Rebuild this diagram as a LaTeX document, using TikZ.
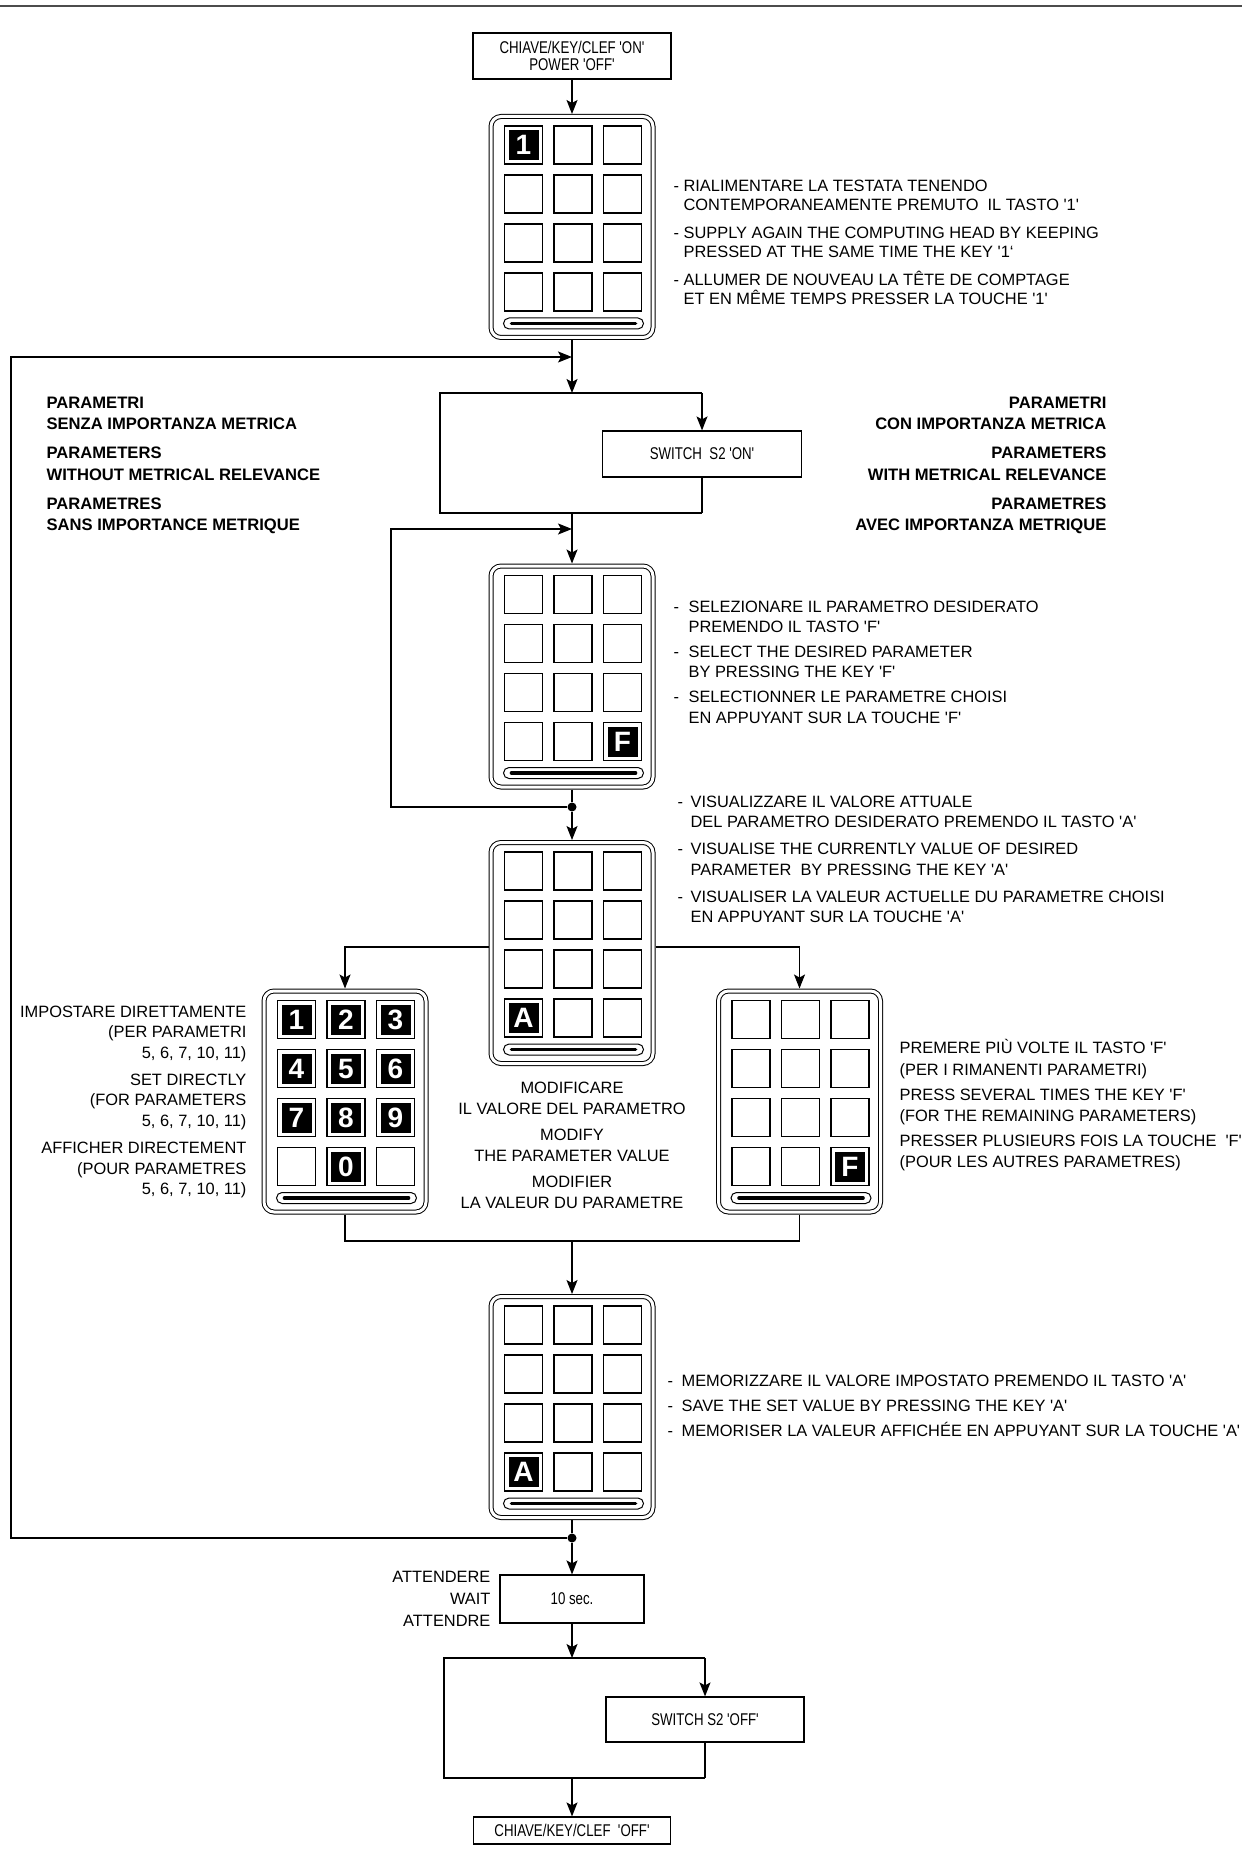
\documentclass[tikz,border=0pt]{standalone}
\usepackage{fontspec}
\setmainfont{Liberation Sans}
\newfontfamily\mytxt{Liberation Sans}
\newfontfamily\mycond[FakeStretch=0.78]{Liberation Sans}
\usepackage{tikz}
\usetikzlibrary{arrows.meta,calc,positioning}

\tikzset{
  arr/.style={-{Stealth[length=7pt,width=5.5pt,inset=1.5pt]}},
  box/.style={draw, inner sep=0pt, align=center,
    font=\mycond\fontsize{8.5}{8.5}\selectfont},
  keypad/.style={draw, double, double distance=1.5pt, line width=0.5pt,
    rounded corners=5pt, minimum width=81pt, minimum height=110.5pt,
    inner sep=0pt, outer sep=1.25pt},
  key/.style={line width=0.7pt},
  hkey/.style={fill=black, text=white, minimum size=15pt, inner sep=0pt,
    font=\mytxt\fontsize{14}{14}\selectfont\bfseries},
  dot/.style={circle, fill=black, inner sep=0pt, minimum size=4.5pt},
  txt/.style={inner sep=0pt, font=\mytxt\fontsize{8.2}{#1}\selectfont},
  txt/.default=10.2pt,
  boldtxt/.style={inner sep=0pt, font=\mytxt\fontsize{8.3}{10.75}\selectfont\bfseries},
}

% dash in front of a text line, and the indent of its second line
\newcommand{\itemdash}[1][7pt]{\makebox[#1][l]{-}}
\newcommand{\itemind}[1][7pt]{\hspace*{#1}}

% keypad: 3x4 keys and the slot at the bottom
\newcommand{\drawkeypad}[2]{%
  \node[keypad] (#1) at (#2) {};
  \foreach \kx in {0,1,2}
    \foreach \ky in {0,1,2,3}
      \draw[key] ($(#1.north west)+(16+49.5*\kx,12+49*\ky)$) rectangle ++(38,38);
  \draw[line width=0.5pt, rounded corners=2.75pt]
    ($(#1.north west)+(15,204)$) rectangle ++(140,11);
  \draw[line width=1.8pt, line cap=round]
    ($(#1.north west)+(23,209.5)$) -- ++(124,0);
}
% pressed key: column, row, label
\newcommand{\hotkey}[4]{%
  \node[hkey] (#1-#4) at ($(#1.north west)+(35+49.5*#2,31+49*#3)$) {#4};
}

\begin{document}
\begin{tikzpicture}[x=0.5pt, y=-0.5pt, line width=0.6pt]
\useasboundingbox (0,0) rectangle (1242,1850);
\draw[line width=0.8pt, black!70] (0,6) -- (1242,6);

% boxes
\node[box, minimum width=99pt, minimum height=23pt] (on) at (572,56)
  {CHIAVE/KEY/CLEF 'ON'\\POWER 'OFF'};
\node[box, minimum width=99.5pt, minimum height=23pt] (sw1) at (702,454)
  {SWITCH\ \ S2 'ON'};
\node[box, minimum width=72pt, minimum height=24pt] (wt) at (572,1599) {10 sec.};
\node[box, minimum width=99pt, minimum height=22.5pt] (sw2) at (705,1719.5)
  {SWITCH S2 'OFF'};
\node[box, minimum width=98.5pt, minimum height=13.5pt] (off) at (572,1830.5)
  {CHIAVE/KEY/CLEF\ \ 'OFF'};

% keypads
\drawkeypad{kp1}{572,227}
\hotkey{kp1}{0}{0}{1}
\drawkeypad{kp2}{572,676.5}
\hotkey{kp2}{2}{3}{F}
\drawkeypad{kp3}{572,953}
\hotkey{kp3}{0}{3}{A}
\drawkeypad{kpL}{345,1101.5}
\foreach \n/\cx/\cy in {1/0/0,2/1/0,3/2/0,4/0/1,5/1/1,6/2/1,7/0/2,8/1/2,9/2/2,0/1/3}
  {\hotkey{kpL}{\cx}{\cy}{\n}}
\drawkeypad{kpR}{799.5,1101.5}
\hotkey{kpR}{2}{3}{F}
\drawkeypad{kp4}{572,1407}
\hotkey{kp4}{0}{3}{A}

\node[dot] (d1) at (572,807) {};
\node[dot] (d2) at (572,1538) {};

% corner points of the lines
\coordinate (j1) at (572,357);
\coordinate (lp1a) at (11,1538);
\coordinate (lp1b) at (11,357);
\coordinate (f1n) at (572,393);
\coordinate (f1nw) at (440,393);
\coordinate (f1ne) at (702,393);
\coordinate (f1sw) at (440,513);
\coordinate (f1se) at (702,513);
\coordinate (f1s) at (572,513);
\coordinate (j2) at (572,529);
\coordinate (lp2a) at (391,807);
\coordinate (lp2b) at (391,529);
\coordinate (bl) at (345,947);
\coordinate (br) at (799.5,947);
\coordinate (jl) at (345,1241);
\coordinate (jr) at (799.5,1241);
\coordinate (jm) at (572,1241);
\coordinate (f2n) at (572,1658);
\coordinate (f2nw) at (444,1658);
\coordinate (f2ne) at (705,1658);
\coordinate (f2sw) at (444,1778);
\coordinate (f2se) at (705,1778);
\coordinate (f2s) at (572,1778);

% connectors
\draw[arr] (on) -- (kp1);
\draw[arr] (kp1) -- (f1n);
\draw[arr] (d2) -- (lp1a) -- (lp1b) -- (j1);
\draw (f1ne) -- (f1nw) -- (f1sw) -- (f1se);
\draw[arr] (f1ne) -- (sw1);
\draw (sw1) -- (f1se);
\draw[arr] (f1s) -- (kp2);
\draw[arr] (d1) -- (lp2a) -- (lp2b) -- (j2);
\draw (kp2) -- (d1);
\draw[arr] (d1) -- (kp3);
\draw[arr] (kp3.west |- bl) -- (bl) -- (kpL);
\draw[arr] (kp3.east |- br) -- (br) -- (kpR);
\draw (kpL) -- (jl) -- (jr) -- (kpR);
\draw[arr] (jm) -- (kp4);
\draw (kp4) -- (d2);
\draw[arr] (d2) -- (wt);
\draw[arr] (wt) -- (f2n);
\draw (f2ne) -- (f2nw) -- (f2sw) -- (f2se);
\draw[arr] (f2ne) -- (sw2);
\draw (sw2) -- (f2se);
\draw[arr] (f2s) -- (off);

% texts
\node[txt=9.5pt, anchor=north west, align=left] (t1) at (673,179)
  {\itemdash[5pt]RIALIMENTARE LA TESTATA TENENDO\\
   \itemind[5pt]CONTEMPORANEAMENTE PREMUTO\ \ IL TASTO '1'\\[4.5pt]
   \itemdash[5pt]SUPPLY AGAIN THE COMPUTING HEAD BY KEEPING\\
   \itemind[5pt]PRESSED AT THE SAME TIME THE KEY '1‘\\[4.5pt]
   \itemdash[5pt]ALLUMER DE NOUVEAU LA TÊTE DE COMPTAGE\\
   \itemind[5pt]ET EN MÊME TEMPS PRESSER LA TOUCHE '1'};
\node[boldtxt, anchor=north west, align=left] (t2) at (46,396)
  {PARAMETRI\\SENZA IMPORTANZA METRICA\\[3.75pt]
   PARAMETERS\\WITHOUT METRICAL RELEVANCE\\[3.75pt]
   PARAMETRES\\SANS IMPORTANCE METRIQUE};
\node[boldtxt, anchor=north east, align=right] (t3) at (1107,396)
  {PARAMETRI\\CON IMPORTANZA METRICA\\[3.75pt]
   PARAMETERS\\WITH METRICAL RELEVANCE\\[3.75pt]
   PARAMETRES\\AVEC IMPORTANZA METRIQUE};
\node[txt=10.2pt, anchor=north west, align=left] (t4) at (673,600)
  {\itemdash[7.5pt]SELEZIONARE IL PARAMETRO DESIDERATO\\
   \itemind[7.5pt]PREMENDO IL TASTO 'F'\\[2.3pt]
   \itemdash[7.5pt]SELECT THE DESIRED PARAMETER\\
   \itemind[7.5pt]BY PRESSING THE KEY 'F'\\[2.3pt]
   \itemdash[7.5pt]SELECTIONNER LE PARAMETRE CHOISI\\
   \itemind[7.5pt]EN APPUYANT SUR LA TOUCHE 'F'};
\node[txt=10.3pt, anchor=north west, align=left] (t5) at (677,795)
  {\itemdash[6.5pt]VISUALIZZARE IL VALORE ATTUALE\\
   \itemind[6.5pt]DEL PARAMETRO DESIDERATO PREMENDO IL TASTO 'A'\\[3.2pt]
   \itemdash[6.5pt]VISUALISE THE CURRENTLY VALUE OF DESIRED\\
   \itemind[6.5pt]PARAMETER\ \ BY PRESSING THE KEY 'A'\\[3.2pt]
   \itemdash[6.5pt]VISUALISER LA VALEUR ACTUELLE DU PARAMETRE CHOISI\\
   \itemind[6.5pt]EN APPUYANT SUR LA TOUCHE 'A'};
\node[txt=10.3pt, anchor=north east, align=right] (t6) at (247,1005)
  {IMPOSTARE DIRETTAMENTE\\(PER PARAMETRI\\5, 6, 7, 10, 11)\\[3.2pt]
   SET DIRECTLY\\(FOR PARAMETERS\\5, 6, 7, 10, 11)\\[3.2pt]
   AFFICHER DIRECTEMENT\\(POUR PARAMETRES\\5, 6, 7, 10, 11)};
\node[txt=10.5pt, anchor=north, align=center] (t7) at (572,1081)
  {MODIFICARE\\IL VALORE DEL PARAMETRO\\[2.5pt]
   MODIFY\\THE PARAMETER VALUE\\[2.5pt]
   MODIFIER\\LA VALEUR DU PARAMETRE};
\node[txt=10.6pt, anchor=north west, align=left] (t8) at (899,1039)
  {PREMERE PIÙ VOLTE IL TASTO 'F'\\(PER I RIMANENTI PARAMETRI)\\[1.9pt]
   PRESS SEVERAL TIMES THE KEY 'F'\\(FOR THE REMAINING PARAMETERS)\\[1.9pt]
   PRESSER PLUSIEURS FOIS LA TOUCHE\ \ 'F'\\(POUR LES AUTRES PARAMETRES)};
\node[txt=12.5pt, anchor=north west, align=left] (t9) at (667,1374)
  {\itemdash[7pt]MEMORIZZARE IL VALORE IMPOSTATO PREMENDO IL TASTO 'A'\\
   \itemdash[7pt]SAVE THE SET VALUE BY PRESSING THE KEY 'A'\\
   \itemdash[7pt]MEMORISER LA VALEUR AFFICHÉE EN APPUYANT SUR LA TOUCHE 'A'};
\node[txt=11pt, anchor=north east, align=right] (t10) at (491,1571)
  {ATTENDERE\\WAIT\\ATTENDRE};
\end{tikzpicture}
\end{document}
